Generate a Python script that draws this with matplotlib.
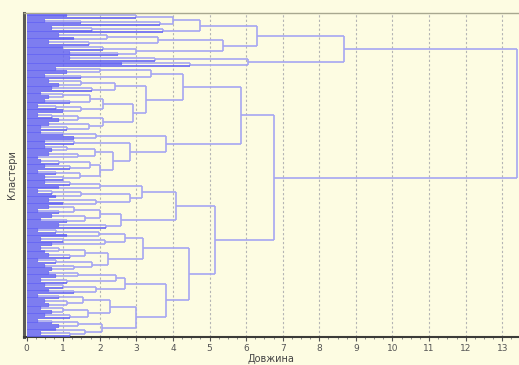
import matplotlib
matplotlib.use("Agg")
import matplotlib.pyplot as plt
from matplotlib.collections import LineCollection
from matplotlib.ticker import MultipleLocator

# Hierarchical clustering tree: [merge height, child, child, ...]; 0 = single object
A1a = [4.73,
       [4.00, [3.00, [1.1, 0, 0], 0], [3.64, [1.5, [0.5, 0, 0], 0], 0]],
       [3.73, [1.8, [0.7, 0, 0], 0], 0]]
A1b = [5.38,
       [3.58, [2.2, [0.9, 0, 0], [1.3, 0, 0]], [1.7, [0.6, 0, 0], 0]],
       [3.00, [2.1, [1.0, 0, 0], 0], [2.5, [1.2, 0, 0], 0]]]
A2 = [6.04, [3.5, [1.2, 0, 0], 0], [4.46, [2.6, 0, 0], 0]]
A = [8.68, [6.31, A1a, A1b], A2]

B1a_i = [3.41, [2.0, [0.8, 0, 0], [1.1, 0, 0]], [1.5, [0.5, 0, 0], 0]]
B1a_ii = [3.27,
          [2.41, [1.5, [0.6, 0, 0], [0.9, 0, 0]], [1.8, [0.7, 0, 0], 0]],
          [2.91,
           [2.09, [1.73, [1.0, [0.4, 0, 0], [0.6, 0, 0]], [1.2, [0.5, 0, 0], 0]],
                  [1.5, [0.8, [0.3, 0, 0], 0], [1.0, 0, 0]]],
           [2.09, [1.4, [0.7, [0.3, 0, 0], 0], [0.9, 0, 0]],
                  [1.7, [0.6, 0, 0], [1.1, [0.4, 0, 0], 0]]]]]
B1b = [3.80,
       [1.9, [1.0, [0.4, 0, 0], 0], [1.3, 0, 0]],
       [2.82,
        [1.3, [0.5, 0, 0], 0],
        [2.36,
         [1.86, [1.1, [0.5, 0, 0], [0.7, 0, 0]], [1.4, [0.6, 0, 0], [0.3, 0, 0]]],
         [2.0, [1.72, [0.9, [0.4, 0, 0], 0], [1.2, [0.5, 0, 0], 0]],
               [1.45, [0.8, [0.3, 0, 0], 0], [1.0, [0.5, 0, 0], 0]]]]]]
B1 = [5.86, [4.27, B1a_i, B1a_ii], B1b]

B2a = [4.09,
       [3.16,
        [2.0, [1.2, [0.5, 0, 0], 0], [0.9, 0, 0]],
        [2.82, [1.5, [0.7, [0.3, 0, 0], 0], [0.8, 0, 0]], [1.9, [0.6, 0, 0], [1.0, 0, 0]]]],
       [2.59,
        [2.0, [1.3, [0.6, 0, 0], [0.9, [0.3, 0, 0], 0]], [1.6, [0.7, 0, 0], [1.1, [0.4, 0, 0], 0]]],
        [2.18, [0.9, 0, 0], 0]]]
B2b = [4.45,
       [3.18,
        [2.68, [1.98, [0.8, [0.3, 0, 0], 0], [1.1, 0, 0]], [2.15, [1.0, [0.4, 0, 0], 0], [0.7, 0, 0]]],
        [2.23, [1.6, [0.9, [0.4, 0, 0], [0.5, 0, 0]], [1.2, [0.6, 0, 0], 0]],
               [1.8, [0.8, [0.3, 0, 0], 0], [1.3, [0.5, 0, 0], [0.7, 0, 0]]]]],
       [3.82,
        [2.68, [2.45, [1.4, [0.6, 0, 0], [0.8, 0, 0]], [1.1, [0.4, 0, 0], 0]],
               [1.9, [1.0, [0.5, 0, 0], 0], [1.3, [0.6, 0, 0], 0]]],
        [2.98,
         [2.27, [1.55, [0.9, [0.3, 0, 0], 0], [1.1, [0.5, 0, 0], [0.6, 0, 0]]],
                [1.68, [1.0, [0.4, 0, 0], [0.7, 0, 0]], [1.2, [0.5, 0, 0], 0]]],
         [2.05, [1.4, [0.7, [0.3, 0, 0], 0], [0.9, 0, 0]],
                [1.6, [0.8, 0, 0], [1.2, [0.4, 0, 0], 0]]]]]]
B2 = [5.16, B2a, B2b]
B = [6.75, B1, B2]

TREE = [13.40, A, B]

x_ticks = list(range(0, 14))
x_label = "Довжина"
y_label = "Кластери"


def layout(node, links, leaves, counter):
    if not isinstance(node, list):
        y = counter[0]
        counter[0] += 1
        return y, 0.0
    h = node[0]
    kids = [layout(c, links, leaves, counter) for c in node[1:]]
    for (yc, hc), c in zip(kids, node[1:]):
        seg = [(hc, yc), (h, yc)]
        if isinstance(c, list):
            links.append(seg)
        else:
            leaves.append(seg)
    ys = [k[0] for k in kids]
    links.append([(h, min(ys)), (h, max(ys))])
    return (min(ys) + max(ys)) / 2.0, h


links, leaves, counter = [], [], [0]
layout(TREE, links, leaves, counter)
n_leaves = counter[0]

bg = "#fdfce2"
fig = plt.figure(figsize=(5.19, 3.65), dpi=100, facecolor=bg)
ax = fig.add_axes([24 / 519, 1 - 337 / 365, 494 / 519, 324 / 365])
ax.set_facecolor(bg)

for xv in x_ticks[1:]:
    ax.axvline(xv, color="#b4b4b4", lw=0.8, ls=(0, (2, 2)), zorder=1)

ax.add_collection(LineCollection(links, colors="#a6a6f2", linewidths=1.2, zorder=2))
ax.add_collection(LineCollection(leaves, colors="#6464f4", linewidths=1.2, zorder=3))

ax.set_xlim(-0.07, 13.43)
ax.set_ylim(n_leaves - 0.3, -0.9)

ax.set_xticks(x_ticks)
ax.xaxis.set_minor_locator(MultipleLocator(0.25))
ax.tick_params(axis="x", which="major", length=3, width=0.8, color="#555555",
               labelsize=6.5, labelcolor="#555555", pad=2)
ax.tick_params(axis="x", which="minor", length=1.5, width=0.6, color="#777777")
ax.set_yticks([])

ax.spines["right"].set_visible(False)
ax.spines["left"].set_color("#5a5a55")
ax.spines["left"].set_linewidth(2.2)
ax.spines["bottom"].set_color("#3c3c38")
ax.spines["bottom"].set_linewidth(1.5)
ax.spines["top"].set_color("#a8a890")
ax.spines["top"].set_linewidth(1.0)

ax.set_xlabel(x_label, fontsize=7, color="#444444", labelpad=0.5)
ax.set_ylabel(y_label, fontsize=7, color="#444444", labelpad=5)

fig.savefig("out.png", dpi=100, facecolor=bg)
